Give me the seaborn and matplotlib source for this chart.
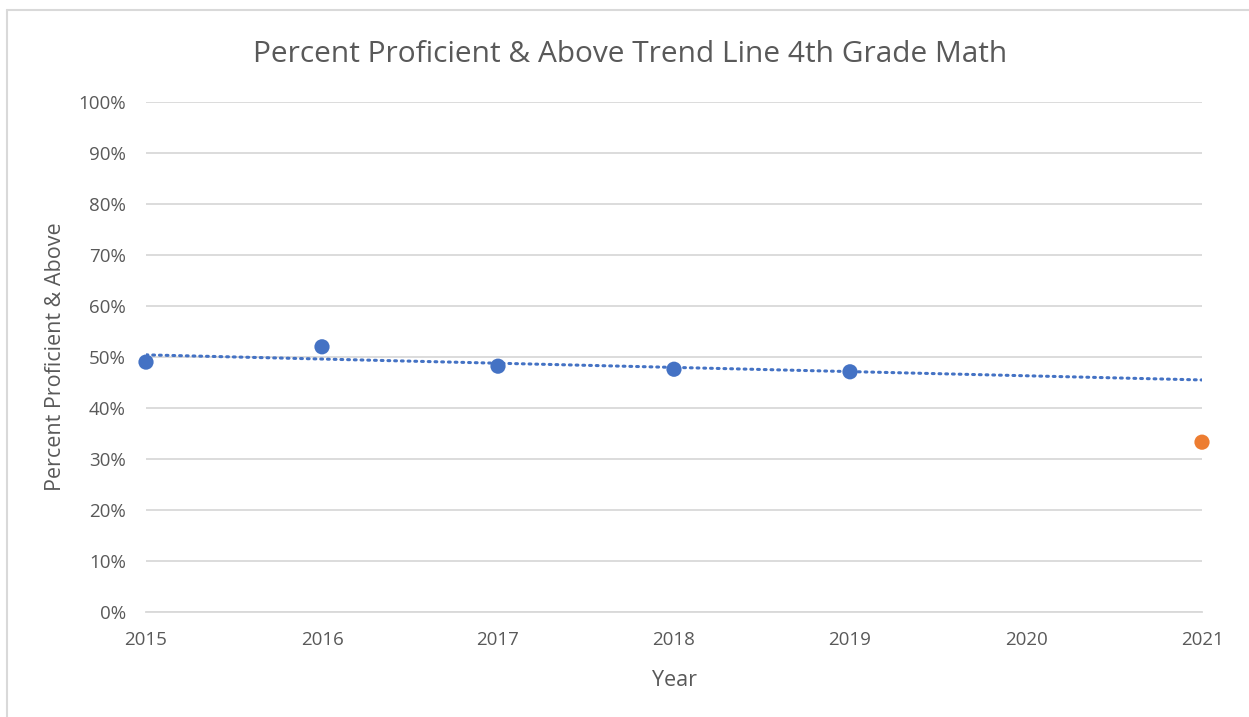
import numpy as np
import pandas as pd
import matplotlib
matplotlib.use('Agg')
import matplotlib.pyplot as plt
import seaborn as sns
from matplotlib.ticker import PercentFormatter

# Données
years = [2015, 2016, 2017, 2018, 2019, 2021]
pct = [49.0, 52.0, 48.2, 47.6, 47.1, 33.3]
groups = ['pre', 'pre', 'pre', 'pre', 'pre', 'post']
trend_years = [2015, 2021]

df = pd.DataFrame({'Year': years, 'Pct': pct, 'Group': groups})

sns.set_theme(style='white')
plt.rcParams['font.family'] = ['Open Sans', 'DejaVu Sans']

fig = plt.figure(figsize=(12.49, 7.17), dpi=100)
ax = fig.add_axes([146 / 1249, 1 - 612 / 717, (1202 - 146) / 1249, (612 - 102) / 717])

# Ligne de tendance (régression linéaire sur 2015-2019)
pre = df[df['Group'] == 'pre']
slope, intercept = np.polyfit(pre['Year'], pre['Pct'], 1)
trend = pd.DataFrame({'Year': trend_years})
trend['Pct'] = slope * trend['Year'] + intercept
sns.lineplot(data=trend, x='Year', y='Pct', ax=ax, color='#4472C4', lw=2.2,
             linestyle=(0, (0.6, 1.6)), dash_capstyle='round', zorder=3)

sns.scatterplot(data=df, x='Year', y='Pct', hue='Group',
                palette={'pre': '#4472C4', 'post': '#ED7D31'},
                s=120, edgecolor='none', legend=False, ax=ax, zorder=4, clip_on=False)

ax.set_xlim(2015, 2021)
ax.set_ylim(0, 100)
ax.set_yticks(range(0, 101, 10))
ax.set_xticks(range(2015, 2022))
ax.yaxis.set_major_formatter(PercentFormatter(decimals=0))
ax.grid(axis='y', color='#D9D9D9', lw=1.3)
ax.set_axisbelow(True)
for s in ['top', 'right', 'left']:
    ax.spines[s].set_visible(False)
ax.spines['bottom'].set_color('#D9D9D9')
ax.spines['bottom'].set_linewidth(1.3)
ax.tick_params(axis='both', length=0, labelsize=13.5, labelcolor='#595959')
ax.tick_params(axis='y', pad=14.5)
ax.tick_params(axis='x', pad=14)

ax.set_xlabel('Year', fontsize=15.5, color='#595959', labelpad=15)
ax.set_ylabel('Percent Proficient & Above', fontsize=15.5, color='#595959', labelpad=9)
fig.text(630 / 1249, 1 - 54 / 717, 'Percent Proficient & Above Trend Line 4th Grade Math',
         ha='center', va='center', fontsize=21.5, color='#595959')

# Cadre du graphique
fig.add_artist(plt.Line2D([7 / 1249, 7 / 1249], [0, 1 - 10 / 717], color='#D9D9D9', lw=1.5))
fig.add_artist(plt.Line2D([7 / 1249, 1], [1 - 10 / 717, 1 - 10 / 717], color='#D9D9D9', lw=1.5))

fig.savefig('out.png', dpi=100, facecolor='white')
